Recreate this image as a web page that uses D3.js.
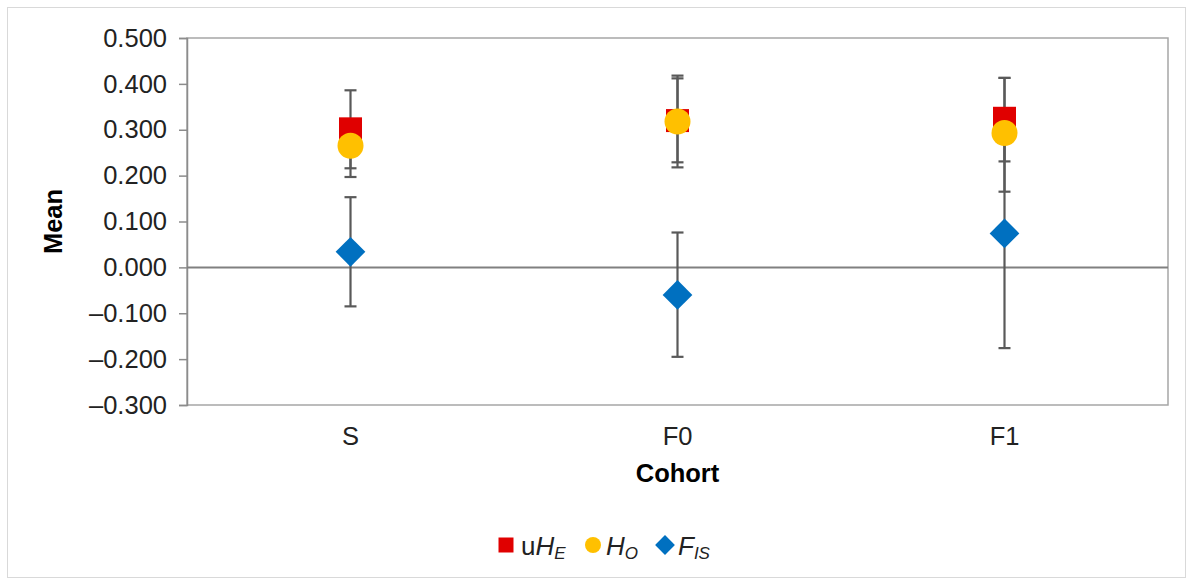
<!DOCTYPE html>
<html><head><meta charset="utf-8">
<script src="https://cdn.jsdelivr.net/npm/d3@7"></script>
<style>body{margin:0;background:#fff}svg{display:block}text{font-family:"Liberation Sans",Arial,sans-serif}</style>
</head><body><svg id="c" width="1192" height="581"></svg>
<script>
const categories = ["S", "F0", "F1"];
const uHE = [0.302, 0.320, 0.325];
const uHELow = [0.216, 0.229, 0.231];
const uHEHigh = [0.386, 0.412, 0.413];
const HO = [0.265, 0.318, 0.293];
const HOLow = [0.197, 0.218, 0.165];
const HOHigh = [0.318, 0.418, 0.413];
const FIS = [0.034, -0.060, 0.074];
const FISLow = [-0.085, -0.195, -0.176];
const FISHigh = [0.153, 0.076, 0.320];
const yTicks = [-0.3, -0.2, -0.1, 0, 0.1, 0.2, 0.3, 0.4, 0.5];

const svg = d3.select("#c");
const L = 187, R = 1168, T = 38, B = 405;
const FS = 25.5;
const x = d3.scaleBand().domain(categories).range([L, R]);
const y = d3.scaleLinear().domain([-0.3, 0.5]).range([B, T]);
const cx = c => x(c) + x.bandwidth() / 2;

svg.append("rect").attr("x", 7.5).attr("y", 7.5).attr("width", 1178).attr("height", 570)
  .attr("fill", "#fff").attr("stroke", "#d9d9d9");

// plot border
svg.append("rect").attr("x", L).attr("y", T).attr("width", R - L).attr("height", B - T)
  .attr("fill", "none").attr("stroke", "#a6a6a6").attr("stroke-width", 1.5);

// y axis
const fmt = v => (v < 0 ? "\u2013" : "") + Math.abs(v).toFixed(3);
const ya = svg.append("g").attr("transform", `translate(${L},0)`)
  .call(d3.axisLeft(y).tickValues(yTicks).tickFormat(fmt).tickSize(8).tickPadding(12));
ya.select(".domain").attr("stroke", "#8c8c8c").attr("stroke-width", 1.5);
ya.selectAll(".tick line").attr("stroke", "#8c8c8c").attr("stroke-width", 1.5);
ya.selectAll(".tick text").attr("font-size", FS).attr("fill", "#222").style("font-family", "Liberation Sans, Arial");

// zero line
svg.append("line").attr("x1", L).attr("x2", R).attr("y1", y(0)).attr("y2", y(0))
  .attr("stroke", "#808080").attr("stroke-width", 2);

// x axis labels
const xa = svg.append("g").attr("transform", `translate(0,${B})`)
  .call(d3.axisBottom(x).tickSize(0).tickPadding(22));
xa.select(".domain").remove();
xa.selectAll(".tick text").attr("font-size", FS).attr("fill", "#222").style("font-family", "Liberation Sans, Arial");

// axis titles
svg.append("text").attr("transform", `translate(62,${(T + B) / 2}) rotate(-90)`)
  .attr("text-anchor", "middle").attr("font-size", FS).attr("font-weight", "bold").text("Mean");
svg.append("text").attr("x", (L + R) / 2).attr("y", 482).attr("text-anchor", "middle")
  .attr("font-size", FS).attr("font-weight", "bold").text("Cohort");

// error bars
const series = [
  {lo: uHELow, hi: uHEHigh},
  {lo: HOLow, hi: HOHigh},
  {lo: FISLow, hi: FISHigh}
];
const eb = svg.append("g").attr("stroke", "#595959").attr("stroke-width", 2.2);
series.forEach(s => {
  categories.forEach((c, i) => {
    const X = cx(c);
    eb.append("line").attr("x1", X).attr("x2", X).attr("y1", y(s.lo[i])).attr("y2", y(s.hi[i]));
    [s.lo[i], s.hi[i]].forEach(v => eb.append("line").attr("x1", X - 6).attr("x2", X + 6).attr("y1", y(v)).attr("y2", y(v)));
  });
});

// markers
const red = "#e00000", yel = "#ffc000", blue = "#0070c0";
const sq = d3.symbol().type(d3.symbolSquare).size(23 * 23);
const ci = d3.symbol().type(d3.symbolCircle).size(Math.PI * 13 * 13);
const dm = d3.symbol().type(d3.symbolSquare).size(21 * 21);
svg.append("g").selectAll("path").data(categories).join("path")
  .attr("transform", (c, i) => `translate(${cx(c)},${y(uHE[i])})`).attr("d", sq).attr("fill", red);
svg.append("g").selectAll("path").data(categories).join("path")
  .attr("transform", (c, i) => `translate(${cx(c)},${y(HO[i])})`).attr("d", ci).attr("fill", yel);
svg.append("g").selectAll("path").data(categories).join("path")
  .attr("transform", (c, i) => `translate(${cx(c)},${y(FIS[i])}) rotate(45)`).attr("d", dm).attr("fill", blue);

// legend
const lg = svg.append("g").attr("font-size", 26).attr("fill", "#222");
const ly = 545;
lg.append("path").attr("d", d3.symbol().type(d3.symbolSquare).size(15 * 15)()).attr("transform", `translate(506,${ly})`).attr("fill", red);
let t = lg.append("text").attr("x", 521).attr("y", ly + 10);
t.append("tspan").text("u");
t.append("tspan").attr("font-style", "italic").text("H");
t.append("tspan").attr("font-style", "italic").attr("font-size", 17).attr("dy", 4).text("E");
lg.append("circle").attr("cx", 593).attr("cy", ly).attr("r", 8).attr("fill", yel);
t = lg.append("text").attr("x", 606).attr("y", ly + 10);
t.append("tspan").attr("font-style", "italic").text("H");
t.append("tspan").attr("font-style", "italic").attr("font-size", 17).attr("dy", 4).text("O");
lg.append("path").attr("d", d3.symbol().type(d3.symbolSquare).size(14 * 14)()).attr("transform", `translate(665,${ly}) rotate(45)`).attr("fill", blue);
t = lg.append("text").attr("x", 678).attr("y", ly + 10);
t.append("tspan").attr("font-style", "italic").text("F");
t.append("tspan").attr("font-style", "italic").attr("font-size", 17).attr("dy", 4).text("IS");
</script></body></html>
